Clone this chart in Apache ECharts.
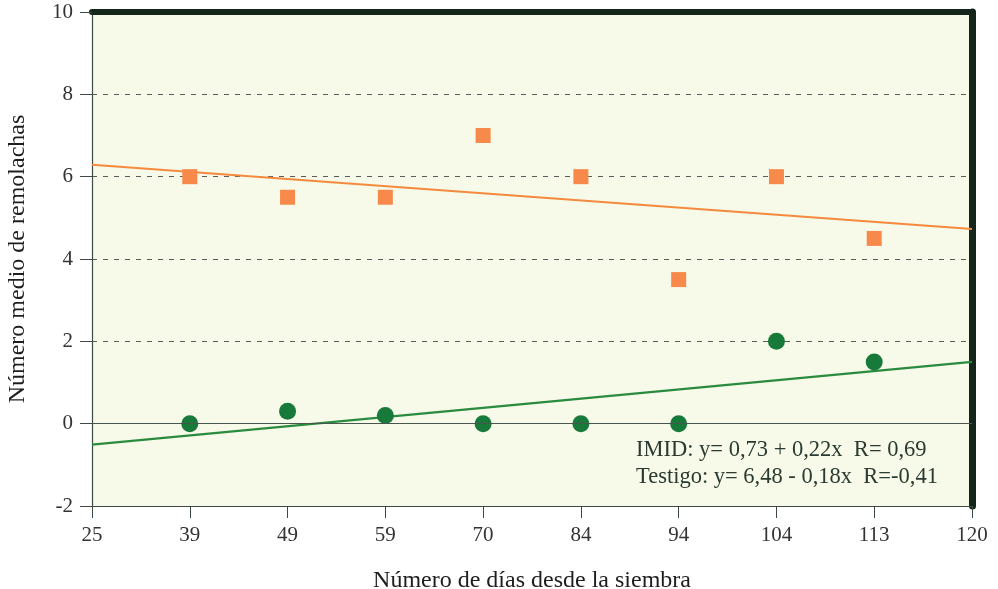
<!DOCTYPE html>
<html><head><meta charset="utf-8">
<script src="https://cdn.jsdelivr.net/npm/echarts@6/dist/echarts.min.js"></script>
<style>html,body{margin:0;padding:0;background:#fff}#c{width:998px;height:589px}</style>
</head><body><div id="c"></div>
<script>
const xTicks = ['25','39','49','59','70','84','94','104','113','120'];
const days = ['39','49','59','70','84','94','104','113'];
const imid = [0, 0.3, 0.2, 0, 0, 0, 2, 1.5];
const testigo = [6, 5.5, 5.5, 7, 6, 3.5, 6, 4.5];
const imidTrend = [['25', -0.51], ['120', 1.5]];
const testigoTrend = [['25', 6.29], ['120', 4.73]];
const eqLines = ['IMID: y= 0,73 + 0,22x  R= 0,69', 'Testigo: y= 6,48 - 0,18x  R=-0,41'];

const font = '"Liberation Serif", "DejaVu Serif", serif';
const axisColor = '#3d4a42';
const chart = echarts.init(document.getElementById('c'));
chart.setOption({
  animation: false,
  backgroundColor: '#ffffff',
  grid: { left: 92, right: 26, top: 12, bottom: 83, show: true, backgroundColor: '#f7fae8', borderWidth: 0,
          outerBoundsMode: 'none', containLabel: false },
  xAxis: [{
    type: 'category', data: xTicks, boundaryGap: false,
    name: 'Número de días desde la siembra', nameLocation: 'middle', nameGap: 63,
    nameTextStyle: { fontFamily: font, fontSize: 24, color: '#1e1e1e' },
    axisLine: { onZero: false, lineStyle: { color: axisColor, width: 1.2 } },
    axisTick: { show: true, length: 12, alignWithLabel: true, lineStyle: { color: axisColor } },
    axisLabel: { fontFamily: font, fontSize: 21, color: '#333', margin: 19 },
    splitLine: { show: false }
  }, {
    type: 'category', data: xTicks, boundaryGap: false, position: 'top',
    axisLine: { onZero: false, lineStyle: { color: '#14261c', width: 6 } },
    axisTick: { show: false }, axisLabel: { show: false }, splitLine: { show: false }
  }],
  yAxis: [{
    type: 'value', min: -2, max: 10, interval: 2,
    name: 'Número medio de remolachas', nameLocation: 'middle', nameGap: 62,
    nameTextStyle: { fontFamily: font, fontSize: 24, color: '#1e1e1e' },
    axisLine: { show: true, onZero: false, lineStyle: { color: axisColor, width: 1.2 } },
    axisTick: { show: true, length: 12, lineStyle: { color: axisColor } },
    axisLabel: { fontFamily: font, fontSize: 21, color: '#333', margin: 19 },
    splitLine: { show: true, lineStyle: { color: '#5a5a5a', type: [5, 6], width: 1 } }
  }, {
    type: 'value', min: -2, max: 10, interval: 2, position: 'right',
    axisLine: { show: true, onZero: false, lineStyle: { color: '#14261c', width: 7 } },
    axisTick: { show: false }, axisLabel: { show: false }, splitLine: { show: false }
  }],
  series: [
    {
      type: 'line', data: testigoTrend, symbol: 'none', silent: true,
      lineStyle: { color: '#f58a3e', width: 2 }, z: 2
    },
    {
      type: 'line', data: imidTrend, symbol: 'none', silent: true,
      lineStyle: { color: '#2a8a40', width: 2.2 }, z: 2,
      markLine: { silent: true, symbol: 'none', label: { show: false },
        lineStyle: { color: '#4a554d', type: 'solid', width: 1.2 },
        data: [{ yAxis: 0 }] }
    },
    {
      type: 'scatter', name: 'Testigo', symbol: 'rect', symbolSize: 15,
      data: days.map((d, i) => [d, testigo[i]]),
      itemStyle: { color: '#f7894a', opacity: 1 }, z: 3
    },
    {
      type: 'scatter', name: 'IMID', symbol: 'circle', symbolSize: 17,
      data: days.map((d, i) => [d, imid[i]]),
      itemStyle: { color: '#177a3a', opacity: 1 }, z: 3
    }
  ],
  graphic: [
    { type: 'text', left: 636, top: 439, style: { text: eqLines[0], font: '22.5px ' + font, fill: '#2a3a30' } },
    { type: 'text', left: 636, top: 466, style: { text: eqLines[1], font: '22.5px ' + font, fill: '#2a3a30' } }
  ]
});
</script>
</body></html>
